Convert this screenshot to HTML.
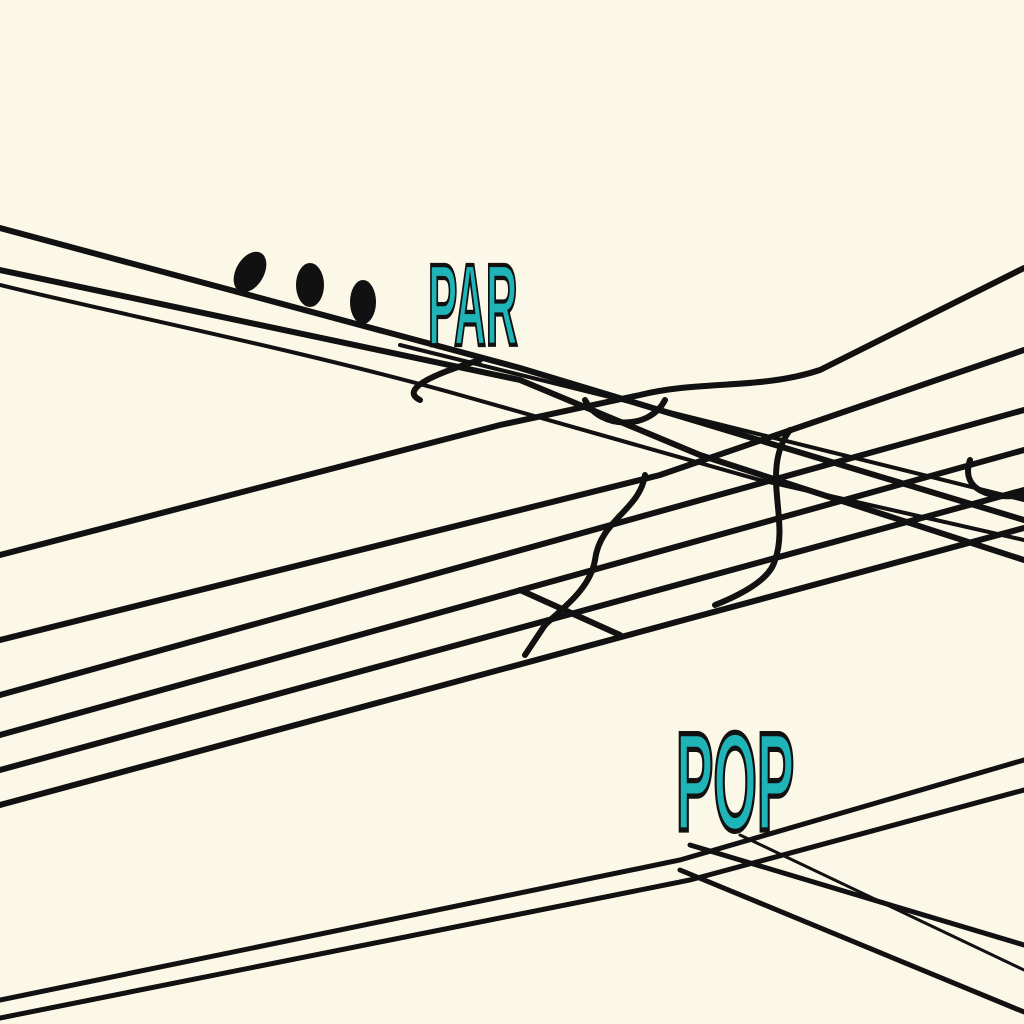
<!DOCTYPE html>
<html><head><meta charset="utf-8"><style>html,body{margin:0;padding:0;background:#fcf8e8}svg{display:block}</style></head>
<body>
<svg width="1024" height="1024" viewBox="0 0 1024 1024" xmlns="http://www.w3.org/2000/svg">
<rect width="1024" height="1024" fill="#fcf8e8"/>
<g fill="none" stroke="#111" stroke-width="6" stroke-linecap="round">
<path d="M0,228 L520,368 L1024,520"/>
<path d="M0,270 L520,380 L700,455 L1024,560"/>
<path d="M0,285 C100,310 300,350 460,395 L760,480 L1024,540" stroke-width="4"/>
<path d="M400,345 L1024,500" stroke-width="4"/>
<path d="M0,555 L500,425 L640,395 C700,380 760,390 820,370 L1024,268"/>
<path d="M0,640 L660,475 L1024,350"/>
<path d="M0,695 L1024,410"/>
<path d="M0,735 L1024,450"/>
<path d="M0,770 L1024,490"/>
<path d="M0,805 L1024,528"/>
<path d="M585,400 C600,430 650,430 665,400"/>
<path d="M790,430 C760,470 790,520 775,560 C770,580 740,595 715,605"/>
<path d="M645,475 C640,510 600,520 595,560 C590,590 560,610 545,625 L525,655"/>
<path d="M520,590 L620,635"/>
<path d="M970,460 C960,490 990,500 1024,495"/>
<path d="M480,360 C430,375 400,390 420,400"/>
<path d="M0,1000 L680,860 L1024,760" stroke-width="5"/>
<path d="M0,1018 L690,880 L1024,790" stroke-width="5"/>
<path d="M680,870 L1024,1012" stroke-width="5"/>
<path d="M690,845 L1024,945" stroke-width="5"/>
<path d="M740,835 L1024,970" stroke-width="3"/>
</g>
<g fill="#111">
<ellipse cx="250" cy="272" rx="14" ry="22" transform="rotate(30 250 272)"/>
<ellipse cx="310" cy="285" rx="14" ry="22"/>
<ellipse cx="363" cy="302" rx="13" ry="22"/>
</g>
<g font-family="Liberation Sans, sans-serif" font-weight="bold" fill="#1fb5b8" stroke="#111" stroke-width="3">
<text x="0" y="0" font-size="80" transform="translate(428,345) scale(0.55,1.45)">PAR</text>
<text x="0" y="0" font-size="80" transform="translate(676,830) scale(0.7,1.75)">POP</text>
</g>
</svg>
</body></html>
